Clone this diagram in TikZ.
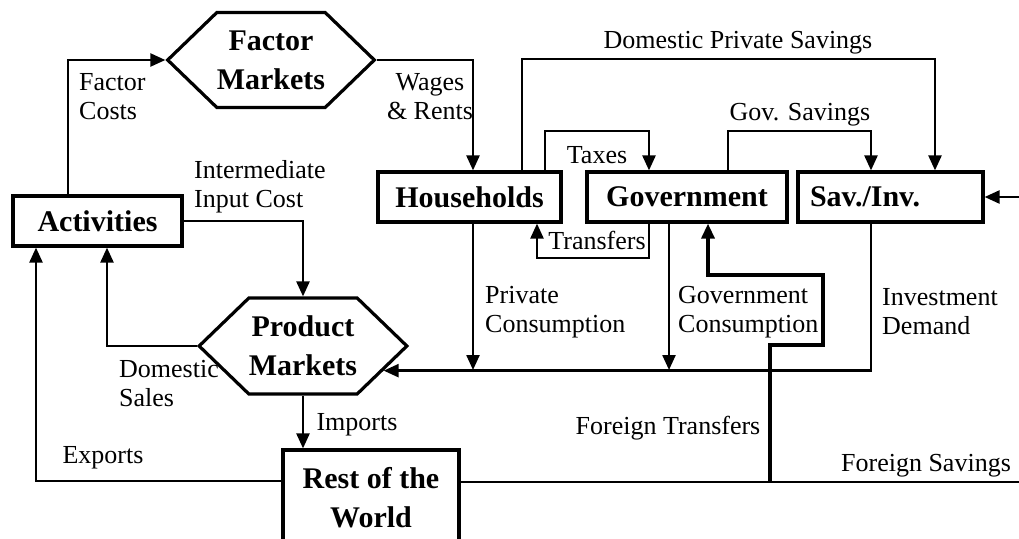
\documentclass[tikz,border=0pt]{standalone}
\usepackage{fontspec}
\setmainfont{Liberation Serif}
\usetikzlibrary{arrows.meta,shapes.symbols}
\tikzset{
  box/.style={draw, line width=3.2pt, font=\fontsize{30}{39}\selectfont\bfseries, minimum height=50pt, inner sep=0pt, align=center},
  market/.style={box, shape=signal, signal to=west and east, signal pointer angle=88},
  lbl/.style={font=\fontsize{26}{29}\selectfont, inner sep=0pt},
  flow/.style={line width=2.4pt, -{Triangle[length=15pt,width=13pt]}}
}
\begin{document}
\begin{tikzpicture}[x=1pt,y=-1pt]
  \clip (0,0) rectangle (1019,538);
  % accounts
  \node[box, minimum width=169pt] (act) at (97.5,221) {Activities};
  \node[box, minimum width=183pt] (hh) at (469.5,197) {Households};
  \node[box, minimum width=200pt] (gov) at (687,197) {Government};
  \node[box, minimum width=185pt, text width=161pt, align=left] (sav) at (890.5,197) {Sav./Inv.};
  \node[box, minimum width=176pt, minimum height=96pt] (row) at (371,498) {Rest of the\\World};
  \node[market, minimum width=198pt, minimum height=95pt] (fm) at (271,60) {Factor\\Markets};
  \node[market, minimum width=200pt, minimum height=96pt] (pm) at (303,346) {Product\\Markets};
  % flows
  \draw[flow] (68,0 |- act.north) |- (fm.west);
  \draw[flow] (fm.east) -| (473,0 |- hh.north);
  \draw[flow] (522,0 |- hh.north) -- (522,59) -| (935,0 |- sav.north);
  \draw[flow] (545,0 |- hh.north) -- (545,131) -| (649,0 |- gov.north);
  \draw[flow] (728,0 |- gov.north) -- (728,131) -| (871,0 |- sav.north);
  \draw[flow] (649,0 |- gov.south) -- (649,258) -| (537,0 |- hh.south);
  \draw[flow] (act.east) -| (pm.north);
  \draw[flow] (pm.west) -| (107,0 |- act.south);
  \draw[flow] (row.west |- 0,481) -| (36,0 |- act.south);
  \draw[flow] (pm.south) -- (pm.south |- row.north);
  \draw[flow] (871,0 |- sav.south) |- (pm.-17);
  \draw[flow] (473,0 |- hh.south) -- (473,370);
  \draw[flow] (669,0 |- gov.south) -- (669,370);
  \draw[flow] (row.east |- 0,482) -- (1040,482) |- (sav.east);
  \coordinate (ft) at (770,482);
  \draw[flow, line width=3.4pt] (ft) -- (770,345) -- (823,345) -- (823,275) -| (708,0 |- gov.south);
  % labels
  \node[lbl, anchor=west, align=left] at (79,97) {Factor\\Costs};
  \node[lbl, align=center] at (430,97) {Wages\\\& Rents};
  \node[lbl, anchor=west, align=left] at (194,187) {Intermediate\\Input Cost};
  \node[lbl] at (738,43) {Domestic Private Savings};
  \node[lbl] at (597,155) {Taxes};
  \node[lbl] at (800,115) {Gov. Savings};
  \node[lbl] at (597,240) {Transfers};
  \node[lbl, anchor=west, align=left] at (485,312) {Private\\Consumption};
  \node[lbl, anchor=west, align=left] at (678,312) {Government\\Consumption};
  \node[lbl, anchor=west, align=left] at (882,312) {Investment\\Demand};
  \node[lbl, anchor=west, align=left] at (119,384) {Domestic\\Sales};
  \node[lbl] at (357,425) {Imports};
  \node[lbl] at (103,458) {Exports};
  \node[lbl] at (668,428) {Foreign Transfers};
  \node[lbl] at (926,466) {Foreign Savings};
\end{tikzpicture}
\end{document}
